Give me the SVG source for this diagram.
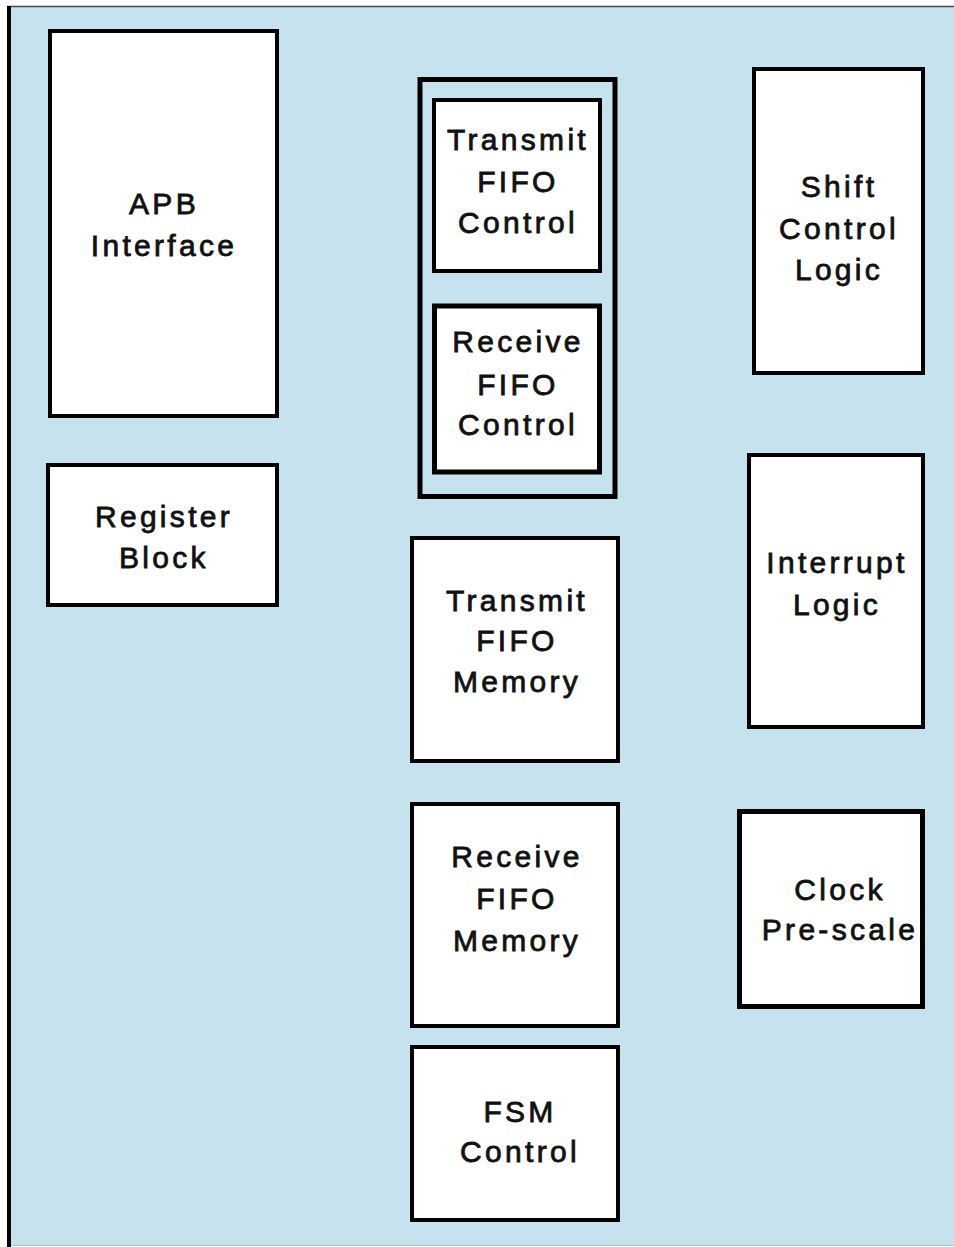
<svg xmlns="http://www.w3.org/2000/svg" width="954" height="1247" viewBox="0 0 954 1247">
<style>
.box{fill:#ffffff;stroke:#000000;stroke-width:4}
.thick{stroke-width:5}
.cont{fill:none;stroke:#000000;stroke-width:5}
.lbl{font-family:"Liberation Sans",Arial,sans-serif;font-size:30px;letter-spacing:3.3px;fill:#111111;stroke:#111111;stroke-width:0.8;text-anchor:middle}
</style>
<rect x="0" y="0" width="954" height="1247" fill="#ffffff"/>
<rect x="11" y="7" width="943" height="1238" fill="#c6e2ee"/>
<line x1="7" y1="6.5" x2="954" y2="6.5" stroke="#3c4a52" stroke-width="1.5"/>
<rect x="7" y="6" width="4" height="1241" fill="#000000"/>
<line x1="11" y1="1245.5" x2="954" y2="1245.5" stroke="#a9c3cf" stroke-width="1"/>

<g id="apb-interface">
<rect class="box" x="50" y="31" width="227" height="385"/>
<text class="lbl" x="164" y="214">APB</text>
<text class="lbl" x="164" y="256">Interface</text>
</g>

<g id="register-block">
<rect class="box" x="48" y="465" width="229" height="140"/>
<text class="lbl" x="164" y="527">Register</text>
<text class="lbl" x="164" y="568">Block</text>
</g>

<g id="fifo-control-group">
<rect class="cont" x="420" y="79.5" width="195" height="417"/>
</g>

<g id="transmit-fifo-control">
<rect class="box" x="434" y="100" width="166" height="171"/>
<text class="lbl" x="518" y="150">Transmit</text>
<text class="lbl" x="518" y="192">FIFO</text>
<text class="lbl" x="518" y="233">Control</text>
</g>

<g id="receive-fifo-control">
<rect class="box thick" x="434.5" y="306" width="165" height="166"/>
<text class="lbl" x="518" y="352">Receive</text>
<text class="lbl" x="518" y="395">FIFO</text>
<text class="lbl" x="518" y="435">Control</text>
</g>

<g id="transmit-fifo-memory">
<rect class="box" x="412" y="538" width="206" height="223"/>
<text class="lbl" x="517" y="611">Transmit</text>
<text class="lbl" x="517" y="651">FIFO</text>
<text class="lbl" x="517" y="692">Memory</text>
</g>

<g id="receive-fifo-memory">
<rect class="box" x="412" y="804" width="206" height="222"/>
<text class="lbl" x="517" y="867">Receive</text>
<text class="lbl" x="517" y="909">FIFO</text>
<text class="lbl" x="517" y="951">Memory</text>
</g>

<g id="fsm-control">
<rect class="box" x="412" y="1047" width="206" height="173"/>
<text class="lbl" x="520" y="1122">FSM</text>
<text class="lbl" x="520" y="1162">Control</text>
</g>

<g id="shift-control-logic">
<rect class="box" x="754" y="69" width="169" height="304"/>
<text class="lbl" x="839" y="197">Shift</text>
<text class="lbl" x="839" y="239">Control</text>
<text class="lbl" x="839" y="280">Logic</text>
</g>

<g id="interrupt-logic">
<rect class="box" x="749" y="455" width="174" height="272"/>
<text class="lbl" x="837" y="573">Interrupt</text>
<text class="lbl" x="837" y="615">Logic</text>
</g>

<g id="clock-prescale">
<rect class="box thick" x="739.5" y="811.5" width="183" height="195"/>
<text class="lbl" x="840" y="900">Clock</text>
<text class="lbl" x="840" y="940">Pre-scale</text>
</g>

<g id="connectors"></g>
</svg>
